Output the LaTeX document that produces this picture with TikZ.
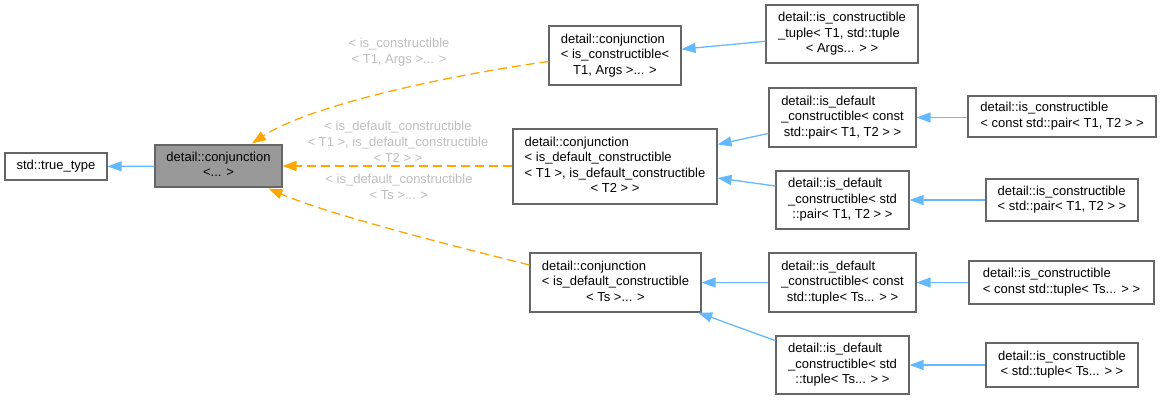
\documentclass[tikz,border=0pt]{standalone}
\usepackage{fontspec}
\setmainfont{Liberation Sans}
\usetikzlibrary{arrows.meta,calc}
\definecolor{boxgray}{HTML}{666666}
\definecolor{cjfill}{HTML}{999999}
\definecolor{edgeblue}{HTML}{63B8FF}
\definecolor{edgeorange}{HTML}{FFA500}
\definecolor{labgray}{HTML}{BEBEBE}
\newcommand{\dl}[2]{\begin{tabular}{@{}l@{}}#1\\\multicolumn{1}{@{}c@{}}{#2}\end{tabular}}
\newcommand{\dlone}[1]{\begin{tabular}{@{}c@{}}#1\end{tabular}}
\tikzset{
  cls/.style={draw=boxgray, fill=white, line width=1.1pt, inner sep=0pt, anchor=center,
    font=\fontsize{13}{15.5}\selectfont},
  inh/.style={draw=edgeblue, line width=1.3pt, -{Triangle[length=14pt,width=10pt]}},
  tpl/.style={draw=edgeorange, line width=1.3pt, dash pattern=on 9pt off 5pt,
    -{Triangle[length=14pt,width=10pt]}},
  lab/.style={text=labgray, align=center, inner sep=0pt,
    font=\fontsize{13}{16}\selectfont}
}
\begin{document}
\begin{tikzpicture}[x=1pt,y=-1pt]
\useasboundingbox (0,0) rectangle (1161,400);
% nodes
\node[cls, minimum width=102pt, minimum height=27pt] (tt) at (56,166.5) {\dlone{std::true\_type}};
\node[cls, fill=cjfill, minimum width=127pt, minimum height=42pt] (cj) at (218.5,166) {\dl{detail::conjunction}{<... >}};
\node[cls, minimum width=132pt, minimum height=59pt] (c1) at (615,55.5) {\dl{detail::conjunction\\< is\_constructible<}{T1, Args >... >}};
\node[cls, minimum width=204pt, minimum height=75pt] (c2) at (615,166.5) {\dl{detail::conjunction\\< is\_default\_constructible\\< T1 >, is\_default\_constructible}{< T2 > >}};
\node[cls, minimum width=171pt, minimum height=59pt] (c3) at (615.5,282.5) {\dl{detail::conjunction\\< is\_default\_constructible}{< Ts >... >}};
\node[cls, minimum width=152pt, minimum height=58pt] (t1) at (842,34) {\dl{detail::is\_constructible\\\_tuple< T1, std::tuple}{< Args... > >}};
\node[cls, minimum width=147pt, minimum height=59pt] (dp1) at (842.5,117.5) {\dl{detail::is\_default\\\_constructible< const}{std::pair< T1, T2 > >}};
\node[cls, minimum width=188pt, minimum height=41pt] (p1) at (1062,116.5) {\dl{detail::is\_constructible}{< const std::pair< T1, T2 > >}};
\node[cls, minimum width=133pt, minimum height=58pt] (dp2) at (842.5,200) {\dl{detail::is\_default\\\_constructible< std}{::pair< T1, T2 > >}};
\node[cls, minimum width=152pt, minimum height=42pt] (p2) at (1062,200) {\dl{detail::is\_constructible}{< std::pair< T1, T2 > >}};
\node[cls, minimum width=147pt, minimum height=59pt] (dt1) at (842.5,282.5) {\dl{detail::is\_default\\\_constructible< const}{std::tuple< Ts... > >}};
\node[cls, minimum width=185pt, minimum height=43pt] (q1) at (1061.5,282.5) {\dl{detail::is\_constructible}{< const std::tuple< Ts... > >}};
\node[cls, minimum width=133pt, minimum height=58pt] (dt2) at (842.5,365) {\dl{detail::is\_default\\\_constructible< std}{::tuple< Ts... > >}};
\node[cls, minimum width=152pt, minimum height=44pt] (q2) at (1062,365) {\dl{detail::is\_constructible}{< std::tuple< Ts... > >}};
% labels
\node[lab] (l1) at (399,52) {< is\_constructible\\< T1, Args >... >};
\node[lab] (l2) at (398,142) {< is\_default\_constructible\\< T1 >, is\_default\_constructible\\< T2 > >};
\node[lab] (l3) at (399,187) {< is\_default\_constructible\\< Ts >... >};
% inheritance edges
\draw[inh] (cj) -- (tt);
\draw[inh] (t1) -- (c1);
\draw[inh] (dp1) -- (c2);
\draw[inh] ($(dp2.west)+(0,-14)$) -- ($(c2.east)+(0,11.5)$);
\draw[inh] (p1.west |- dp1.east) -- (dp1.east);
\draw[inh] (p2) -- (dp2);
\draw[inh] (dt1) -- (c3);
\draw[inh] (dt2) -- (c3);
\draw[inh] (q1) -- (dt1);
\draw[inh] (q2) -- (dt2);
% template edges
\draw[tpl] ($(c1.west)+(0,6)$) .. controls (450,75) and (310,105) .. ($(cj.north)+(33.5,-1)$);
\draw[tpl] (c2.west |- cj.east) -- (cj.east);
\draw[tpl] ($(c3.west)+(0,-17.5)$) .. controls (450,245) and (330,215) .. ($(cj.south east)+(-14,1)$);
\end{tikzpicture}
\end{document}
